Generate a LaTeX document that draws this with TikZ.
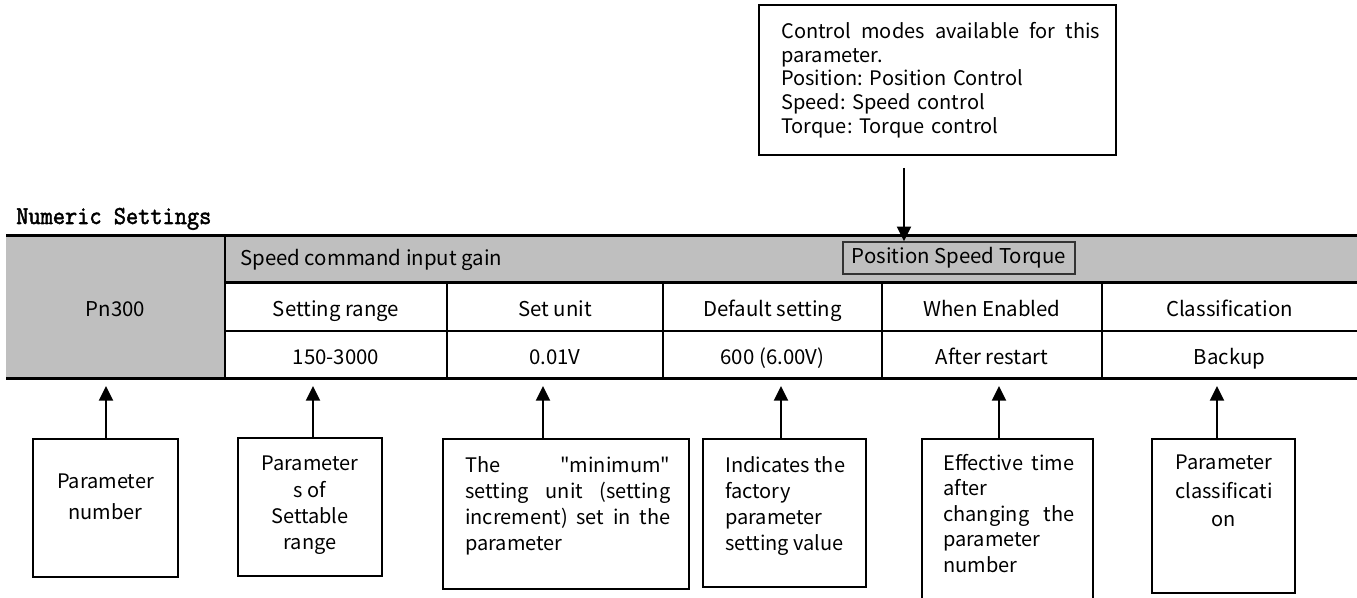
\documentclass[tikz,border=0pt]{standalone}
\usepackage{fontspec}
\setmainfont{Noto Sans CJK SC}
\newfontfamily\plainfont{Noto Sans CJK SC}
\newfontfamily\titlefont{Latin Modern Mono}[FakeBold=2, FakeStretch=0.92]
\usetikzlibrary{arrows.meta}
\newlength\pxu
\setlength\pxu{0.75pt}
\definecolor{cellgray}{RGB}{191,191,191}
\newcommand\spreadline[1]{\makebox[\hsize][l]{#1}}
\newcommand\qmark{{\plainfont"}}
\frenchspacing
\tikzset{
	pointer/.style={line width=1.5pt, -{Triangle[length=11pt,width=10.5pt]}},
	notebox/.style={draw, line width=1.5pt, inner sep=0pt},
	notetext/.style={inner sep=0pt, font=\fontsize{15}{19.7}\selectfont},
	celltext/.style={inner sep=0pt, font=\fontsize{15.3}{18}\selectfont},
	thickrule/.style={line width=2.25pt},
	thinrule/.style={line width=1.1pt}
}

\begin{document}
\begin{tikzpicture}[x=\pxu, y=-\pxu]
		%%%%% START %%%%%
		\useasboundingbox (0,0) rectangle (1357,598);
		
		\node[anchor=base west, inner sep=0pt, font=\fontsize{19.3}{22}\selectfont\titlefont] (title) at (16, 224) {Numeric Settings};
		
		% table
		\fill[cellgray] (6,236) rectangle (225,379);
		\fill[cellgray] (225,236) rectangle (1357,283);
		\draw[thickrule] (6,236) -- (1357,236);
		\draw[thickrule] (225,283) -- (1357,283);
		\draw[thinrule] (225,331) -- (1357,331);
		\draw[thickrule] (6,379) -- (1357,379);
		\draw[thinrule] (225,236) -- (225,379);
		\draw[thinrule] (447,283) -- (447,379);
		\draw[thinrule] (663,283) -- (663,379);
		\draw[thinrule] (882,283) -- (882,379);
		\draw[thinrule] (1102,283) -- (1102,379);
		
		\node[celltext, anchor=base] (pn) at (115.5, 317) {Pn300};
		\node[celltext, anchor=base west] (name) at (240, 266) {Speed command input gain};
		\node[celltext, draw=black!80, line width=1.1pt, fill=cellgray, minimum width=232\pxu, minimum height=32\pxu] (modes) at (959, 258) {Position Speed Torque};
		
		\node[celltext, anchor=base] (rangehead) at (336, 317) {Setting range};
		\node[celltext, anchor=base] (unithead) at (555, 317) {Set unit};
		\node[celltext, anchor=base] (defaulthead) at (772.5, 317) {Default setting};
		\node[celltext, anchor=base] (enablehead) at (992, 317) {When Enabled};
		\node[celltext, anchor=base] (classhead) at (1229.5, 317) {Classification};
		
		\node[celltext, anchor=base] (rangeval) at (336, 365) {150-3000};
		\node[celltext, anchor=base] (unitval) at (555, 365) {0.01V};
		\node[celltext, anchor=base] (defaultval) at (772.5, 365) {600 (6.00V)};
		\node[celltext, anchor=base] (enableval) at (992, 365) {After restart};
		\node[celltext, anchor=base] (classval) at (1229.5, 365) {Backup};
		
		% control mode note
		\node[notebox, minimum width=357\pxu, minimum height=150\pxu] (modebox) at (937.5, 80) {};
		\node[notetext, font=\fontsize{15}{17.8}\selectfont, anchor=north west, text width=319\pxu, align=left] (modetxt) at (781, 22) {\spreadline{Control\hfill modes\hfill available\hfill for\hfill this}\\parameter.\\Position: Position Control\\Speed: Speed control\\Torque: Torque control};
		\coordinate (modetail) at (904, 168);
		\draw[pointer] (modetail) -- (modetail |- modes.north);
		
		% notes below the table
		\node[notebox, minimum width=145\pxu, minimum height=138\pxu] (pnumbox) at (105.5, 508) {};
		\node[notetext, font=\fontsize{15}{22.9}\selectfont, anchor=north, align=center] (pnumtxt) at (105.5, 474) {Parameter\\number};
		
		\node[notebox, minimum width=144\pxu, minimum height=138\pxu] (rangebox) at (310, 507) {};
		\node[notetext, anchor=north, align=center] (rangetxt) at (310, 456) {Parameter\\s of\\Settable\\range};
		
		\node[notebox, minimum width=246\pxu, minimum height=150\pxu] (unitbox) at (566, 514) {};
		\node[notetext, anchor=north west, text width=205\pxu, align=left] (unittxt) at (465, 456) {\spreadline{The\hfill\qmark minimum\qmark}\\\spreadline{setting\hfill unit\hfill (setting}\\\spreadline{increment)\hfill set\hfill in\hfill the}\\parameter};
		
		\node[notebox, minimum width=163\pxu, minimum height=148\pxu] (defaultbox) at (784.5, 513) {};
		\node[notetext, anchor=north west, align=left] (defaulttxt) at (725, 456) {Indicates the\\factory\\parameter\\setting value};
		
		\node[notebox, minimum width=171\pxu, minimum height=165\pxu] (enablebox) at (1007.5, 521.5) {};
		\node[notetext, font=\fontsize{15}{19.1}\selectfont, anchor=north west, text width=131\pxu, align=left] (enabletxt) at (943, 454) {\spreadline{Effective\hfill time}\\after\\\spreadline{changing\hfill the}\\parameter\\number};
		
		\node[notebox, minimum width=143\pxu, minimum height=154\pxu] (classbox) at (1223.5, 516) {};
		\node[notetext, font=\fontsize{15}{21.4}\selectfont, anchor=north, align=center] (classtxt) at (1224, 455) {Parameter\\classificati\\on};
		
		\coordinate (pnumtip) at (106, 386);
		\coordinate (rangetip) at (313, 386);
		\coordinate (unittip) at (543, 386);
		\coordinate (defaulttip) at (781, 386);
		\coordinate (enabletip) at (999, 386);
		\coordinate (classtip) at (1217, 386);
		\draw[pointer] (pnumtip |- pnumbox.north) -- (pnumtip);
		\draw[pointer] (rangetip |- rangebox.north) -- (rangetip);
		\draw[pointer] (unittip |- unitbox.north) -- (unittip);
		\draw[pointer] (defaulttip |- defaultbox.north) -- (defaulttip);
		\draw[pointer] (enabletip |- enablebox.north) -- (enabletip);
		\draw[pointer] (classtip |- classbox.north) -- (classtip);
		
		%%%%% END %%%%%
\end{tikzpicture}
\end{document}
